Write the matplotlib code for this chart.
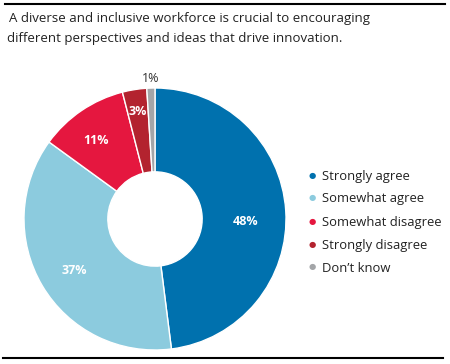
import matplotlib.pyplot as plt
import numpy as np

labels = ['Strongly agree', 'Somewhat agree', 'Somewhat disagree', 'Strongly disagree', "Don\u2019t know"]
values = [48, 37, 11, 3, 1]
colors = ['#0071ae', '#8ccbde', '#e5173f', '#b3232f', '#a3a5a8']
title_lines = ['A diverse and inclusive workforce is crucial to encouraging',
               'different perspectives and ideas that drive innovation.']
label_radius = [0.69, 0.73, 0.75, 0.83, 1.07]
label_shift = [-5, 2, 3, 0, 0]  # degrees, nudges label off the wedge middle
label_colors = ['white', 'white', 'white', 'white', '#333333']

plt.rcParams['font.family'] = ['Open Sans', 'DejaVu Sans']

W, H = 450, 364
fig = plt.figure(figsize=(4.5, 3.64), dpi=100)

# frame lines top and bottom
fig.add_artist(plt.Line2D([5 / W, 445 / W], [1 - 4 / H, 1 - 4 / H], color='black', lw=1.5))
fig.add_artist(plt.Line2D([3 / W, 443 / W], [1 - 358 / H, 1 - 358 / H], color='black', lw=1.5))

for i, line in enumerate(title_lines):
    fig.text((9 if i == 0 else 7) / W, 1 - (22 + 20 * i) / H, line,
             fontsize=9.5, color='#222222', va='baseline')

# donut
cx, cy, r = 155, 219, 131
ax = fig.add_axes([(cx - r) / W, (H - cy - r) / H, 2 * r / W, 2 * r / H])
wedges, _ = ax.pie(values, colors=colors, startangle=90, counterclock=False,
                   wedgeprops=dict(width=0.64, edgecolor='white', linewidth=1))
ax.set_xlim(-1, 1)
ax.set_ylim(-1, 1)
ax.set_aspect('auto')

for w, v, rr, sh, c in zip(wedges, values, label_radius, label_shift, label_colors):
    ang = np.deg2rad((w.theta1 + w.theta2) / 2 + sh)
    ax.text(rr * np.cos(ang), rr * np.sin(ang), f'{v}%', ha='center', va='center',
            color=c, fontsize=9, fontweight='bold' if c == 'white' else 'medium')

# legend
for i, (lab, col) in enumerate(zip(labels, colors)):
    y = 1 - (176 + 23 * i) / H
    fig.text(312 / W, y, '\u25cf', color=col, fontsize=6, ha='center', va='center')
    fig.text(322 / W, y, lab, color='#222222', fontsize=9.4, va='center')

fig.savefig('out.png', dpi=100)
